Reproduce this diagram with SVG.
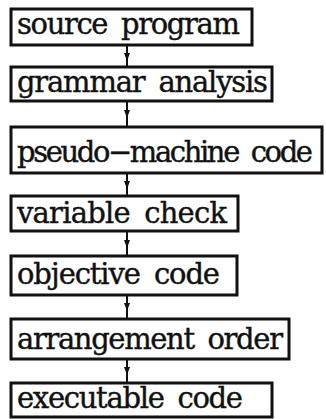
<svg xmlns="http://www.w3.org/2000/svg" width="326" height="419" viewBox="0 0 326 419">
<style>
.box{fill:#fff;stroke:#111;stroke-width:3}
.lbl{font-family:"DejaVu Serif","Liberation Serif",serif;font-size:29px;fill:#111;stroke:#111;stroke-width:0.4;word-spacing:6px}
.con{stroke:#111;stroke-width:2;fill:none;marker-mid:url(#ah)}
</style>
<defs>
<marker id="ah" viewBox="0 0 8 8" refX="4" refY="4" markerWidth="4" markerHeight="4" orient="auto" markerUnits="strokeWidth">
<path d="M0,1 L8,4 L0,7 Z" fill="#111"/>
</marker>
</defs>
<rect width="326" height="419" fill="#fff"/>
<g id="connectors">
<path class="con" d="M127,45 L127,57 L127,67"/>
<path class="con" d="M127,101 L127,114 L127,127"/>
<path class="con" d="M127,173 L127,185 L127,196"/>
<path class="con" d="M127,231 L127,244 L127,256"/>
<path class="con" d="M127,295 L127,307 L127,319"/>
<path class="con" d="M127,359 L127,371 L127,383"/>
</g>
<g id="n1"><rect class="box" x="11" y="9" width="241" height="36"/><text class="lbl" x="17" y="34" textLength="223" lengthAdjust="spacing">source program</text></g>
<g id="n2"><rect class="box" x="11" y="67" width="261" height="34"/><text class="lbl" x="17" y="92" textLength="251" lengthAdjust="spacing">grammar analysis</text></g>
<g id="n3"><rect class="box" x="11" y="127" width="311" height="46"/><text class="lbl" x="17" y="162" textLength="296" lengthAdjust="spacing">pseudo−machine code</text></g>
<g id="n4"><rect class="box" x="11" y="196" width="227" height="35"/><text class="lbl" x="17" y="223" textLength="210" lengthAdjust="spacing">variable check</text></g>
<g id="n5"><rect class="box" x="11" y="256" width="226" height="39"/><text class="lbl" x="17" y="284" textLength="203" lengthAdjust="spacing">objective code</text></g>
<g id="n6"><rect class="box" x="11" y="319" width="278" height="40"/><text class="lbl" x="17" y="349" textLength="266" lengthAdjust="spacing">arrangement order</text></g>
<g id="n7"><rect class="box" x="11" y="383" width="261" height="34"/><text class="lbl" x="17" y="408" textLength="226" lengthAdjust="spacing">executable code</text></g>
</svg>
